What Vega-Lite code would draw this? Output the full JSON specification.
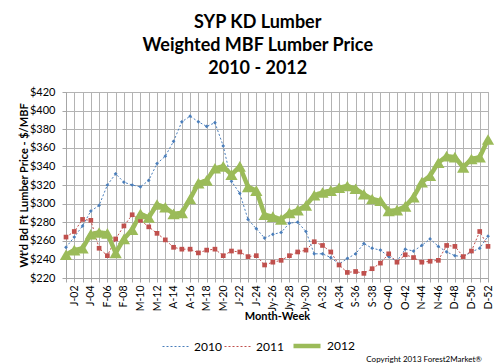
{
  "$schema": "https://vega.github.io/schema/vega-lite/v6.json",
  "width": 422,
  "height": 186,
  "autosize": {"type": "none"},
  "padding": {"left": 66, "top": 92, "right": 12, "bottom": 86},
  "background": "white",
  "config": {
    "view": {"stroke": "#a6a6a6", "strokeWidth": 1},
    "font": "Lato",
    "axis": {"labelFont": "Lato", "titleFont": "Lato", "labelColor": "#000", "titleColor": "#000",
      "grid": true, "gridColor": "#b3b3b3", "gridWidth": 1, "tickSize": 4, "tickColor": "#a6a6a6", "domainColor": "#a6a6a6",
      "labelOverlap": false, "titleFontSize": 11, "titleFontWeight": "bold"},
    "axisX": {"labelAngle": -90, "labelFontSize": 10.5, "labelPadding": 3, "titlePadding": 0,
      "labelExpr": "toNumber(slice(datum.value, -2)) % 2 == 0 ? datum.value : ''"},
    "axisY": {"tickCount": 10, "labelFontSize": 11, "labelPadding": 7, "titlePadding": 0, "labelFlush": false}
  },
  "title": {
    "text": ["SYP KD Lumber", "Weighted MBF Lumber Price", "2010 - 2012"],
    "font": "Lato",
    "fontSize": 18,
    "fontWeight": "bold",
    "color": "#000",
    "lineHeight": 23,
    "anchor": "middle",
    "frame": "bounds",
    "offset": 8
  },
  "data": {
    "values": [
      {"w": "J-01", "2010": 253, "2011": 264, "2012": 245},
      {"w": "J-02", "2010": 264, "2011": 270, "2012": 250},
      {"w": "J-03", "2010": 276, "2011": 283, "2012": 252},
      {"w": "J-04", "2010": 292, "2011": 282, "2012": 267},
      {"w": "F-05", "2010": 298, "2011": 252, "2012": 269},
      {"w": "F-06", "2010": 320, "2011": 244, "2012": 268},
      {"w": "F-07", "2010": 332, "2011": 262, "2012": 247},
      {"w": "F-08", "2010": 323, "2011": 276, "2012": 262},
      {"w": "M-09", "2010": 320, "2011": 288, "2012": 272},
      {"w": "M-10", "2010": 318, "2011": 282, "2012": 289},
      {"w": "M-11", "2010": 325, "2011": 275, "2012": 285},
      {"w": "M-12", "2010": 343, "2011": 268, "2012": 299},
      {"w": "M-13", "2010": 351, "2011": 261, "2012": 296},
      {"w": "A-14", "2010": 367, "2011": 253, "2012": 289},
      {"w": "A-15", "2010": 388, "2011": 251, "2012": 290},
      {"w": "A-16", "2010": 394, "2011": 251, "2012": 305},
      {"w": "A-17", "2010": 388, "2011": 247, "2012": 322},
      {"w": "M-18", "2010": 383, "2011": 250, "2012": 325},
      {"w": "M-19", "2010": 387, "2011": 251, "2012": 338},
      {"w": "M-20", "2010": 362, "2011": 244, "2012": 340},
      {"w": "M-21", "2010": 324, "2011": 249, "2012": 331},
      {"w": "J-22", "2010": 311, "2011": 248, "2012": 340},
      {"w": "J-23", "2010": 283, "2011": 243, "2012": 318},
      {"w": "J-24", "2010": 273, "2011": 244, "2012": 314},
      {"w": "J-25", "2010": 263, "2011": 234, "2012": 288},
      {"w": "Jy-26", "2010": 267, "2011": 237, "2012": 286},
      {"w": "Jy-27", "2010": 269, "2011": 239, "2012": 283},
      {"w": "Jy-28", "2010": 279, "2011": 244, "2012": 290},
      {"w": "Jy-29", "2010": 280, "2011": 248, "2012": 293},
      {"w": "Jy-30", "2010": 270, "2011": 250, "2012": 298},
      {"w": "A-31", "2010": 246, "2011": 259, "2012": 309},
      {"w": "A-32", "2010": 246, "2011": 255, "2012": 312},
      {"w": "A-33", "2010": 242, "2011": 248, "2012": 314},
      {"w": "A-34", "2010": 235, "2011": 234, "2012": 317},
      {"w": "S-35", "2010": 241, "2011": 226, "2012": 319},
      {"w": "S-36", "2010": 246, "2011": 227, "2012": 316},
      {"w": "S-37", "2010": 257, "2011": 225, "2012": 310},
      {"w": "S-38", "2010": 252, "2011": 230, "2012": 305},
      {"w": "S-39", "2010": 250, "2011": 236, "2012": 303},
      {"w": "O-40", "2010": 243, "2011": 246, "2012": 292},
      {"w": "O-41", "2010": 238, "2011": 237, "2012": 293},
      {"w": "O-42", "2010": 251, "2011": 245, "2012": 297},
      {"w": "O-43", "2010": 249, "2011": 242, "2012": 307},
      {"w": "N-44", "2010": 255, "2011": 237, "2012": 323},
      {"w": "N-45", "2010": 262, "2011": 238, "2012": 330},
      {"w": "N-46", "2010": 254, "2011": 239, "2012": 344},
      {"w": "N-47", "2010": 248, "2011": 255, "2012": 351},
      {"w": "D-48", "2010": 244, "2011": 254, "2012": 350},
      {"w": "D-49", "2010": 243, "2011": 243, "2012": 339},
      {"w": "D-50", "2010": 248, "2011": 249, "2012": 348},
      {"w": "D-51", "2010": 252, "2011": 270, "2012": 350},
      {"w": "D-52", "2010": 265, "2011": 254, "2012": 369}
    ]
  },
  "layer": [
    {
      "transform": [{"fold": ["2010", "2011", "2012"], "as": ["year", "price"]}],
      "encoding": {
        "x": {
          "field": "w", "type": "nominal", "sort": null,
          "scale": {"type": "point", "padding": 0},
          "axis": {"title": "Month-Week"}
        },
        "y": {
          "field": "price", "type": "quantitative",
          "scale": {"domain": [220, 420], "nice": false, "zero": false},
          "axis": {"title": "Wt'd Bd Ft Lumber Price - $/MBF", "format": "$,d"}
        }
      },
      "layer": [
        {
          "mark": {"type": "line"},
          "encoding": {
            "color": {
              "field": "year", "type": "nominal",
              "scale": {"domain": ["2010", "2011", "2012"], "range": ["#4a7ebb", "#c0504d", "#9bbb59"]},
              "legend": {
                "orient": "none", "legendX": 96, "legendY": 238,
                "direction": "horizontal", "title": null,
                "labelFont": "Lato", "labelFontSize": 12, "labelColor": "#000",
                "symbolSize": 729, "columnPadding": 0, "labelOffset": 4
              }
            },
            "strokeDash": {"field": "year", "type": "nominal", "scale": {"type": "ordinal", "domain": ["2010", "2011", "2012"], "range": [[2, 2], [2, 2], [1, 0]]},
              "legend": {"orient": "none", "legendX": 96, "legendY": 238, "direction": "horizontal", "title": null}},
            "strokeWidth": {"field": "year", "type": "nominal", "scale": {"type": "ordinal", "domain": ["2010", "2011", "2012"], "range": [1, 1, 4.5]},
              "legend": {"orient": "none", "legendX": 96, "legendY": 238, "direction": "horizontal", "title": null}}
          }
        },
        {
          "transform": [{"filter": "datum.year == '2010'"}],
          "mark": {"type": "point", "filled": true, "opacity": 1, "shape": "diamond", "size": 14, "color": "#4a7ebb"}
        },
        {
          "transform": [{"filter": "datum.year == '2011'"}],
          "mark": {"type": "point", "filled": true, "opacity": 1, "shape": "square", "size": 22, "color": "#c0504d"}
        },
        {
          "transform": [{"filter": "datum.year == '2012'"}],
          "mark": {"type": "point", "filled": true, "opacity": 1, "shape": "triangle-up", "size": 150, "color": "#9bbb59"}
        }
      ]
    },
    {
      "data": {"values": [{"note": "Copyright 2013 Forest2Market®"}]},
      "mark": {"type": "text", "align": "right", "baseline": "middle", "font": "Lato", "fontSize": 8, "color": "#000", "dy": 82, "dx": -6},
      "encoding": {
        "x": {"datum": "D-52"},
        "y": {"datum": 220},
        "text": {"field": "note", "type": "nominal"}
      }
    }
  ]
}
